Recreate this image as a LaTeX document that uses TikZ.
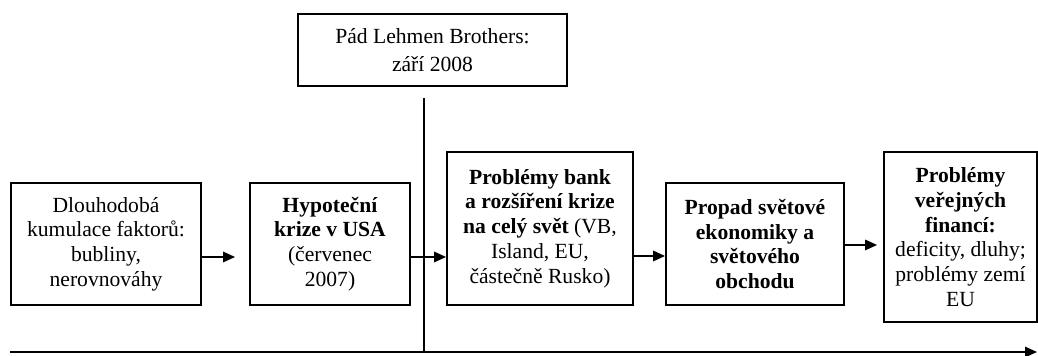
\documentclass[tikz,border=0pt]{standalone}
\usepackage{fontspec}
\setmainfont{Liberation Serif}
\usetikzlibrary{arrows.meta}
\begin{document}
\begin{tikzpicture}[x=0.5pt,y=-0.5pt,
  box/.style={draw, line width=0.9pt, align=center, inner sep=0pt,
    font=\fontsize{10.8}{12.35}\selectfont},
  arr/.style={-{Triangle[length=6pt,width=5.2pt]}, line width=0.9pt}]
\useasboundingbox (0,0) rectangle (1038,356);
% boxes
\node[box, minimum width=134.5pt, minimum height=36pt,
  font=\fontsize{10.8}{14}\selectfont] (top) at (432.5,50)
  {Pád Lehmen Brothers:\\září 2008};
\node[box, minimum width=95pt, minimum height=61pt] (b1) at (106,244)
  {Dlouhodobá\\kumulace faktorů:\\bubliny,\\nerovnováhy};
\node[box, minimum width=80pt, minimum height=61pt] (b2) at (330,244)
  {\textbf{Hypoteční}\\\textbf{krize v USA}\\(červenec\\2007)};
\node[box, minimum width=93pt, minimum height=76.5pt] (b3) at (540,228.5)
  {\textbf{Problémy bank}\\\textbf{a rozšíření krize}\\\textbf{na celý svět} (VB,\\Island, EU,\\částečně Rusko)};
\node[box, minimum width=89pt, minimum height=61pt] (b4) at (755,244)
  {\textbf{Propad světové}\\\textbf{ekonomiky a}\\\textbf{světového}\\\textbf{obchodu}};
\node[box, minimum width=76.5pt, minimum height=85pt] (b5) at (960.5,237)
  {\textbf{Problémy}\\\textbf{veřejných}\\\textbf{financí:}\\deficity, dluhy;\\problémy zemí\\EU};
% helper coordinates
\coordinate (ya) at (0,257);
\coordinate (yc) at (0,256);
\coordinate (yb) at (0,245);
\coordinate (vtop) at (424,98);
\coordinate (vbot) at (424,352);
\coordinate (hl) at (10,352);
\coordinate (hr) at (1037,352);
% connectors
\draw[arr, shorten >=7pt] (b1.east |- ya) -- (b2.west |- ya);
\draw[arr] (b2.east |- ya) -- (b3.west |- ya);
\draw[arr] (b3.east |- yc) -- (b4.west |- yc);
\draw[arr, shorten >=3pt] (b4.east |- yb) -- (b5.west |- yb);
\draw[line width=0.9pt] (vtop) -- (vbot);
\draw[arr] (hl) -- (hr);
\end{tikzpicture}
\end{document}
